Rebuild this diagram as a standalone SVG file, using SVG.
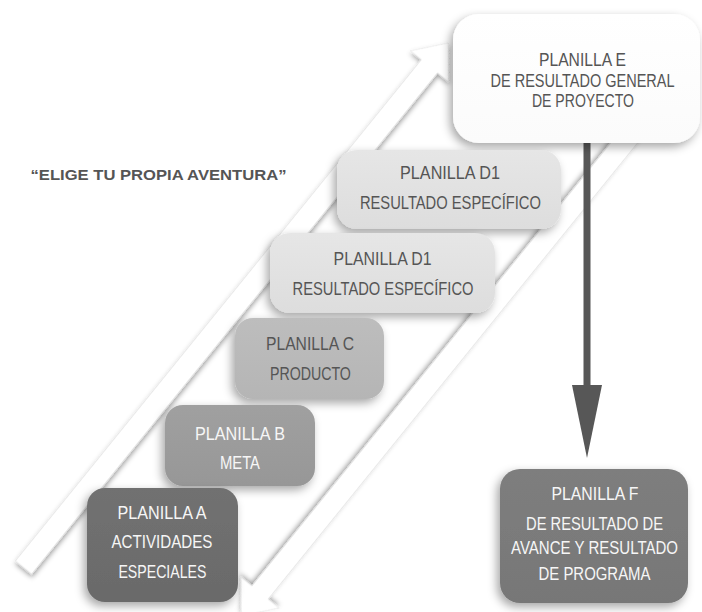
<svg xmlns="http://www.w3.org/2000/svg" width="702" height="612" viewBox="0 0 702 612">
  <defs>
    <style>
      .t { font-family: "Liberation Sans Narrow", "Liberation Sans", Arial, sans-serif; font-size: 18px; text-anchor: middle; }
      .dk { fill: #555555; }
      .lt { fill: #f6f6f6; }
      .title { font-family: "Liberation Sans Narrow", "Liberation Sans", Arial, sans-serif; font-size: 14px; font-weight: bold; fill: #555555; text-anchor: middle; }
      .band { fill: #ffffff; stroke: #dedede; stroke-width: 0.6; filter: url(#bandShadow); }
      .box { filter: url(#boxShadow); }
      .varrow { fill: #575757; }
    </style>
    <filter id="boxShadow" x="-25%" y="-25%" width="150%" height="155%">
      <feDropShadow dx="-3" dy="4" stdDeviation="5" flood-color="#000000" flood-opacity="0.35"/>
    </filter>
    <filter id="bandShadow" x="-10%" y="-10%" width="120%" height="120%">
      <feDropShadow dx="-2" dy="2" stdDeviation="2.5" flood-color="#000000" flood-opacity="0.38"/>
    </filter>
    <linearGradient id="gE" x1="0" y1="0" x2="0" y2="1"><stop offset="0" stop-color="#ffffff"/><stop offset="1" stop-color="#fbfbfb"/></linearGradient>
    <linearGradient id="gD" x1="0" y1="0" x2="0" y2="1"><stop offset="0" stop-color="#e6e6e6"/><stop offset="1" stop-color="#dddddd"/></linearGradient>
    <linearGradient id="gC" x1="0" y1="0" x2="0" y2="1"><stop offset="0" stop-color="#bdbdbd"/><stop offset="1" stop-color="#b5b5b5"/></linearGradient>
    <linearGradient id="gB" x1="0" y1="0" x2="0" y2="1"><stop offset="0" stop-color="#a0a0a0"/><stop offset="1" stop-color="#979797"/></linearGradient>
    <linearGradient id="gA" x1="0" y1="0" x2="0" y2="1"><stop offset="0" stop-color="#717171"/><stop offset="1" stop-color="#6a6a6a"/></linearGradient>
    <linearGradient id="gF" x1="0" y1="0" x2="0" y2="1"><stop offset="0" stop-color="#7e7e7e"/><stop offset="1" stop-color="#777777"/></linearGradient>
  </defs>

  <rect x="0" y="0" width="702" height="612" fill="#ffffff"/>

  <g id="connectors">
    <path class="band" transform="translate(23.5,567.5) rotate(-51)" d="M0,-10.5 H645 V-24.5 L675,0 L645,24.5 V10.5 H0 Z"/>
    <path class="band" transform="translate(642.7,120) rotate(129)" d="M0,-10.5 H608 V-24.5 L638,0 L608,24.5 V10.5 H0 Z"/>
    <rect class="varrow" x="583.5" y="138" width="7" height="252"/>
    <polygon class="varrow" points="572,385 602,385 587,458"/>
  </g>

  <text class="title" x="158.5" y="180" textLength="256" lengthAdjust="spacingAndGlyphs">“ELIGE TU PROPIA AVENTURA”</text>

  <g id="node-e">
    <rect class="box" x="453" y="14" width="247" height="129" rx="26" fill="url(#gE)"/>
    <g transform="matrix(0.85 0 0 1 87.4 0)">
      <text class="t dk" x="582.5" y="66.5" font-size="19" textLength="102.4" lengthAdjust="spacingAndGlyphs">PLANILLA E</text>
      <text class="t dk" x="582.5" y="87.5" font-size="19" textLength="216.5" lengthAdjust="spacingAndGlyphs">DE RESULTADO GENERAL</text>
      <text class="t dk" x="583" y="107" font-size="19" textLength="120" lengthAdjust="spacingAndGlyphs">DE PROYECTO</text>
    </g>
  </g>

  <g id="node-d1-upper">
    <rect class="box" x="337" y="150" width="224" height="79" rx="20" fill="url(#gD)"/>
    <g transform="matrix(0.85 0 0 1 67.5 0)">
      <text class="t dk" x="450" y="179.5" textLength="117.6" lengthAdjust="spacingAndGlyphs">PLANILLA D1</text>
      <text class="t dk" x="450.5" y="209.5" textLength="212.9" lengthAdjust="spacingAndGlyphs">RESULTADO ESPECÍFICO</text>
    </g>
  </g>

  <g id="node-d1-lower">
    <rect class="box" x="270" y="233" width="225" height="80" rx="20" fill="url(#gD)"/>
    <g transform="matrix(0.85 0 0 1 57.45 0)">
      <text class="t dk" x="382.5" y="265.5" textLength="115.3" lengthAdjust="spacingAndGlyphs">PLANILLA D1</text>
      <text class="t dk" x="383" y="295.5" textLength="212.9" lengthAdjust="spacingAndGlyphs">RESULTADO ESPECÍFICO</text>
    </g>
  </g>

  <g id="node-c">
    <rect class="box" x="235" y="318" width="149" height="81" rx="18" fill="url(#gC)"/>
    <g transform="matrix(0.85 0 0 1 46.5 0)">
      <text class="t dk" x="310" y="350.5" textLength="103.5" lengthAdjust="spacingAndGlyphs">PLANILLA C</text>
      <text class="t dk" x="310.5" y="380" textLength="95.3" lengthAdjust="spacingAndGlyphs">PRODUCTO</text>
    </g>
  </g>

  <g id="node-b">
    <rect class="box" x="165" y="405" width="150" height="81" rx="18" fill="url(#gB)"/>
    <g transform="matrix(0.85 0 0 1 36 0)">
      <text class="t lt" x="240" y="440" textLength="105.9" lengthAdjust="spacingAndGlyphs">PLANILLA B</text>
      <text class="t lt" x="240" y="469.5" textLength="47.1" lengthAdjust="spacingAndGlyphs">META</text>
    </g>
  </g>

  <g id="node-a">
    <rect class="box" x="87" y="488" width="151" height="114" rx="18" fill="url(#gA)"/>
    <g transform="matrix(0.85 0 0 1 24.3 0)">
      <text class="t lt" x="162" y="519.5" textLength="104.7" lengthAdjust="spacingAndGlyphs">PLANILLA A</text>
      <text class="t lt" x="162" y="548.5" textLength="118.8" lengthAdjust="spacingAndGlyphs">ACTIVIDADES</text>
      <text class="t lt" x="162.5" y="578.5" textLength="103.5" lengthAdjust="spacingAndGlyphs">ESPECIALES</text>
    </g>
  </g>

  <g id="node-f">
    <rect class="box" x="500" y="469" width="188" height="134" rx="20" fill="url(#gF)"/>
    <g transform="matrix(0.85 0 0 1 89.2 0)">
      <text class="t lt" x="595" y="500" textLength="102.4" lengthAdjust="spacingAndGlyphs">PLANILLA F</text>
      <text class="t lt" x="594.5" y="530" textLength="161.2" lengthAdjust="spacingAndGlyphs">DE RESULTADO DE</text>
      <text class="t lt" x="594.5" y="554.5" textLength="196.5" lengthAdjust="spacingAndGlyphs">AVANCE Y RESULTADO</text>
      <text class="t lt" x="594.5" y="580.5" textLength="131.8" lengthAdjust="spacingAndGlyphs">DE PROGRAMA</text>
    </g>
  </g>
</svg>
